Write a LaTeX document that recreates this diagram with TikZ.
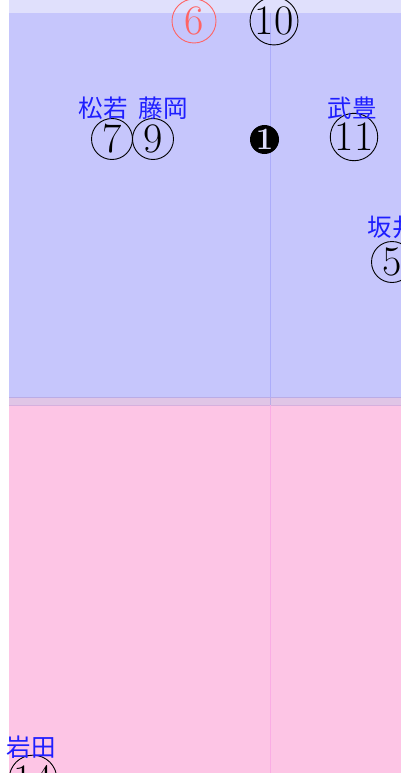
\documentclass[tikz,border=0pt]{standalone}
\usepackage{fontspec}
\newfontfamily\jp{Noto Sans CJK JP}
\definecolor{topband}{RGB}{224,224,252}
\definecolor{bluefield}{RGB}{198,198,252}
\definecolor{pinkfield}{RGB}{253,197,229}
\definecolor{overlap}{RGB}{224,197,230}
\definecolor{bluelineC}{RGB}{172,172,250}
\definecolor{pinklineC}{RGB}{250,172,228}
\definecolor{edgeA}{RGB}{186,172,230}
\definecolor{edgeB}{RGB}{214,176,222}
\definecolor{redplayer}{RGB}{255,100,100}
\definecolor{lblblue}{RGB}{30,30,255}
\tikzset{
  player/.style={circle, draw=black, line width=0.9pt, inner sep=0pt, minimum size=41pt,
     font=\fontsize{42}{42}\selectfont},
  lbl/.style={text=lblblue, inner sep=0pt, font=\jp\fontsize{24.5}{24.5}\selectfont},
}
\begin{document}
\begin{tikzpicture}[x=1pt,y=-1pt]
\useasboundingbox (0,0) rectangle (401,773);
\fill[white] (0,0) rectangle (401,773);
% field areas
\fill[topband] (9,0) rectangle (401,13);
\fill[bluefield] (9,13) rectangle (401,397);
\fill[overlap] (9,397) rectangle (401,405);
\fill[pinkfield] (9,405) rectangle (401,773);
\draw[edgeA, line width=0.8pt] (9,397) -- (401,397);
\draw[edgeB, line width=0.8pt] (9,405) -- (401,405);
% centre line
\draw[bluelineC, line width=0.8pt] (270,13) -- (270,397);
\draw[edgeA, line width=0.8pt] (270,397) -- (270,405);
\draw[pinklineC, line width=0.8pt] (270,405) -- (270,773);
% players
\node[player, draw=redplayer, text=redplayer, minimum size=44pt] (p6) at (194,21) {6};
\node[player, minimum size=45pt] (p10) at (274,21) {10};
\node[player] (p7) at (112,139) {7};
\node[player] (p9) at (153,139) {9};
\node[circle, fill=black, text=bluefield!60!white, inner sep=0pt, minimum size=29pt,
      font=\bfseries\fontsize{31}{31}\selectfont] (p1) at (264.5,139.5) {1};
\node[player, minimum size=45pt] (p11) at (354,137) {11};
\node[player] (p5) at (392,262) {5};
\node[player, minimum size=44pt] (p14) at (33,779) {14};
% labels
\node[lbl] (l7) at (103,108) {松若};
\node[lbl] (l9) at (163,108) {藤岡};
\node[lbl] (l11) at (352,108) {武豊};
\node[lbl] (l5) at (392,227) {坂井};
\node[lbl] (l14) at (31,747) {岩田};
\end{tikzpicture}
\end{document}
